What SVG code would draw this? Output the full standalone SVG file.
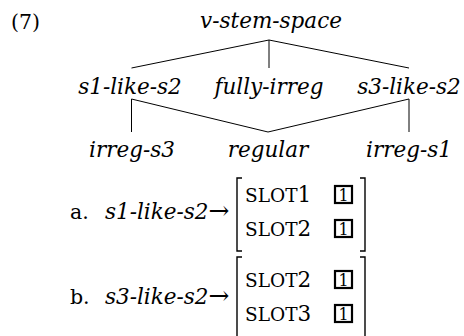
<svg xmlns="http://www.w3.org/2000/svg" width="464" height="336" viewBox="0 0 464 336">
<style>
text{font-family:"DejaVu Serif","Liberation Serif",serif;fill:#000;}
.it{font-style:italic;font-size:21.5px;text-anchor:middle;}
.lab{font-style:italic;font-size:21.5px;}
.arr{font-style:normal;font-size:25px;}
.up{font-size:20.5px;}
.sc{font-size:21.5px;}
.sm{font-size:18.5px;}
.ln{stroke:#000;stroke-width:1;fill:none;}
.br{stroke:#000;stroke-width:1.4;fill:none;}
.bx{stroke:#000;stroke-width:2.2;fill:none;}
.one{font-size:16px;text-anchor:middle;}
</style>
<text class="up" x="11" y="29">(7)</text>
<g id="connectors">
<path class="ln" d="M269,40 L131.5,68 M269,40 L269,68 M269,40 L409,68"/>
<path class="ln" d="M131.5,99 L131.5,132 M131.5,99 L268,132 M409,99 L268,132 M409,99 L409,132"/>
</g>
<g id="v-stem-space"><text class="it" x="271" y="28">v-stem-space</text></g>
<g id="s1-like-s2"><text class="it" x="130" y="94">s1-like-s2</text></g>
<g id="fully-irreg"><text class="it" x="269" y="94">fully-irreg</text></g>
<g id="s3-like-s2"><text class="it" x="409" y="94">s3-like-s2</text></g>
<g id="irreg-s3"><text class="it" x="132" y="157">irreg-s3</text></g>
<g id="regular"><text class="it" x="268" y="157">regular</text></g>
<g id="irreg-s1"><text class="it" x="409" y="157">irreg-s1</text></g>
<g id="ex-a">
<text class="up" x="70" y="219">a.</text>
<text class="lab" x="105" y="219">s1-like-s2<tspan class="arr">→</tspan></text>
<path class="br" d="M242,178 L237,178 L237,251 L242,251"/>
<path class="br" d="M360,178 L365,178 L365,251 L360,251"/>
<text class="sc" x="245" y="202"><tspan class="sm">SLOT</tspan>1</text>
<text class="sc" x="245" y="236"><tspan class="sm">SLOT</tspan>2</text>
<rect class="bx" x="335" y="186" width="17" height="17"/>
<text class="one" x="343.5" y="200.5">1</text>
<rect class="bx" x="335" y="220" width="17" height="17"/>
<text class="one" x="343.5" y="234.5">1</text>
</g>
<g id="ex-b">
<text class="up" x="70" y="304">b.</text>
<text class="lab" x="105" y="304">s3-like-s2<tspan class="arr">→</tspan></text>
<path class="br" d="M242,257 L237,257 L237,336 M360,257 L365,257 L365,336"/>
<text class="sc" x="245" y="287"><tspan class="sm">SLOT</tspan>2</text>
<text class="sc" x="245" y="321"><tspan class="sm">SLOT</tspan>3</text>
<rect class="bx" x="335" y="271" width="17" height="17"/>
<text class="one" x="343.5" y="285.5">1</text>
<rect class="bx" x="335" y="305" width="17" height="17"/>
<text class="one" x="343.5" y="319.5">1</text>
</g>
</svg>
